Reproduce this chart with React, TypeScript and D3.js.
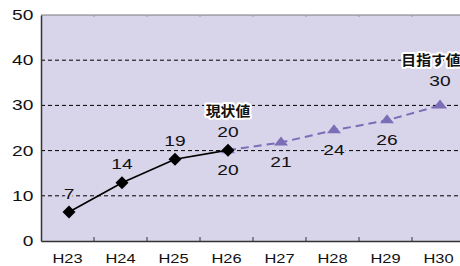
import React, { useEffect, useRef } from 'react';
import * as d3 from 'd3';

// categories (fiscal years)
const years = ["H23", "H24", "H25", "H26", "H27", "H28", "H29", "H30"];

// actual values (black diamonds)
const actualYears = ["H23", "H24", "H25", "H26"];
const actualValues = [6.4, 12.9, 18.1, 20.1];
const actualLabels = ["7", "14", "19", "20"];

// target path (purple triangles, dashed)
const targetYears = ["H26", "H27", "H28", "H29", "H30"];
const targetValues = [20.1, 21.8, 24.5, 26.7, 30];
const targetLabels = ["20", "21", "24", "26", "30"];

const yTicks = [0, 10, 20, 30, 40, 50];

const BG = "#d8d4ea";
const PURPLE = "#7b6db6";
const STRETCH = 1.37; // the original text looks horizontally stretched

const App = () => {
    const ref = useRef<SVGSVGElement | null>(null);

    useEffect(() => {
        const svg = d3.select(ref.current);
        svg.selectAll("*").remove();

        const margin = { top: 15, left: 41, bottom: 25 };
        const height = 266;
        const plotRight = 465;
        const plotBottom = height - margin.bottom;

        const x = d3.scaleBand().domain(years).range([margin.left, plotRight]);
        const cx = (d: string) => (x(d) ?? 0) + x.bandwidth() / 2 + 1.5;
        const y = d3.scaleLinear().domain([0, 50]).range([plotBottom, margin.top]);

        const latin = "'Liberation Sans', Arial, sans-serif";

        // plot background
        svg.append("rect")
            .attr("x", margin.left).attr("y", margin.top)
            .attr("width", plotRight - margin.left).attr("height", plotBottom - margin.top)
            .attr("fill", BG);

        // grid lines
        svg.append("g").selectAll("line")
            .data(yTicks.filter(t => t > 0 && t < 50))
            .enter().append("line")
            .attr("x1", margin.left).attr("x2", plotRight)
            .attr("y1", d => y(d)).attr("y2", d => y(d))
            .attr("stroke", "#000").attr("stroke-width", 1)
            .attr("stroke-dasharray", "4,3");

        // top border (gray) with small ticks
        svg.append("line")
            .attr("x1", margin.left).attr("x2", plotRight)
            .attr("y1", y(50)).attr("y2", y(50))
            .attr("stroke", "#7a7a7a").attr("stroke-width", 1.2);
        svg.append("g").selectAll("line")
            .data(years.slice(1))
            .enter().append("line")
            .attr("x1", d => x(d) ?? 0).attr("x2", d => x(d) ?? 0)
            .attr("y1", y(50)).attr("y2", y(50) + 2)
            .attr("stroke", "#9a9a9a").attr("stroke-width", 1);

        // y axis
        const yAxis = svg.append("g")
            .attr("transform", `translate(${margin.left},0)`)
            .call(d3.axisLeft(y).tickValues(yTicks).tickSize(0));
        yAxis.select(".domain").attr("stroke", "#333").attr("stroke-width", 1.5);
        yAxis.selectAll("text")
            .attr("x", -5.6)
            .attr("transform", `scale(${STRETCH},1)`)
            .style("font-family", latin)
            .style("font-size", "14px").attr("fill", "#111");

        // x axis
        const xAxis = svg.append("g")
            .attr("transform", `translate(0,${plotBottom})`)
            .call(d3.axisBottom(x).tickSize(0).tickPadding(13.5));
        xAxis.select(".domain").attr("stroke", "#333").attr("stroke-width", 1.5);
        xAxis.selectAll("text")
            .attr("transform", `scale(${STRETCH},1)`)
            .style("font-family", latin)
            .style("font-size", "12px").attr("fill", "#111");

        // band separator ticks (pointing inward)
        svg.append("g").selectAll("line")
            .data(years.slice(1))
            .enter().append("line")
            .attr("x1", d => x(d) ?? 0).attr("x2", d => x(d) ?? 0)
            .attr("y1", plotBottom).attr("y2", plotBottom - 4)
            .attr("stroke", "#333").attr("stroke-width", 1);

        // target dashed line
        const line = d3.line<[string, number]>()
            .x(d => cx(d[0]))
            .y(d => y(d[1]));
        const tgt: [string, number][] = targetYears.map((d, i) => [d, targetValues[i]]);
        svg.append("path")
            .datum(tgt)
            .attr("d", line)
            .attr("fill", "none")
            .attr("stroke", PURPLE).attr("stroke-width", 2)
            .attr("stroke-dasharray", "8,5");
        svg.append("g").selectAll("path")
            .data(tgt)
            .enter().append("path")
            .attr("d", d3.symbol().type(d3.symbolTriangle).size(70))
            .attr("transform", d => `translate(${cx(d[0])},${y(d[1])}) scale(1.1,0.82)`)
            .attr("fill", PURPLE);

        // actual solid line
        const act: [string, number][] = actualYears.map((d, i) => [d, actualValues[i]]);
        svg.append("path")
            .datum(act)
            .attr("d", line)
            .attr("fill", "none")
            .attr("stroke", "#000").attr("stroke-width", 1.6);
        svg.append("g").selectAll("path")
            .data(act)
            .enter().append("path")
            .attr("d", d3.symbol().type(d3.symbolSquare).size(85))
            .attr("transform", d => `translate(${cx(d[0])},${y(d[1])}) rotate(45)`)
            .attr("fill", "#000");

        const addLabel = (tx: number, ty: number, text: string, halo: string, font: string,
                          size: number, weight: string, sx: number) => {
            svg.append("text")
                .attr("transform", `translate(${tx},${ty}) scale(${sx},1)`)
                .attr("text-anchor", "middle")
                .style("font-family", font).style("font-size", size + "px")
                .style("font-weight", weight)
                .attr("fill", "#111")
                .attr("stroke", halo).attr("stroke-width", 4)
                .attr("stroke-linejoin", "round")
                .attr("paint-order", "stroke")
                .text(text);
        };

        // value labels: actual above, target below (last one above)
        act.forEach((d, i) => {
            addLabel(cx(d[0]), y(d[1]) - 13.5, actualLabels[i], BG, latin, 14, "normal", STRETCH);
        });
        tgt.forEach((d, i) => {
            const last = i === tgt.length - 1;
            addLabel(cx(d[0]), y(d[1]) + (last ? -19 : 25), targetLabels[i], BG, latin, 14, "normal", STRETCH);
        });

        const jp = "'Noto Sans CJK JP', sans-serif";
        addLabel(cx("H26"), y(actualValues[3]) - 34, "現状値", "#fff", jp, 14, "bold", 1.06);
        addLabel(cx("H30") - 9, y(30) - 40, "目指す値", "#fff", jp, 14, "bold", 1.06);
    }, []);

    return (
        <svg ref={ref} width={460} height={266}
            style={{ position: "absolute", left: 0, top: 0, background: "#fff" }} />
    );
};

export default App;
